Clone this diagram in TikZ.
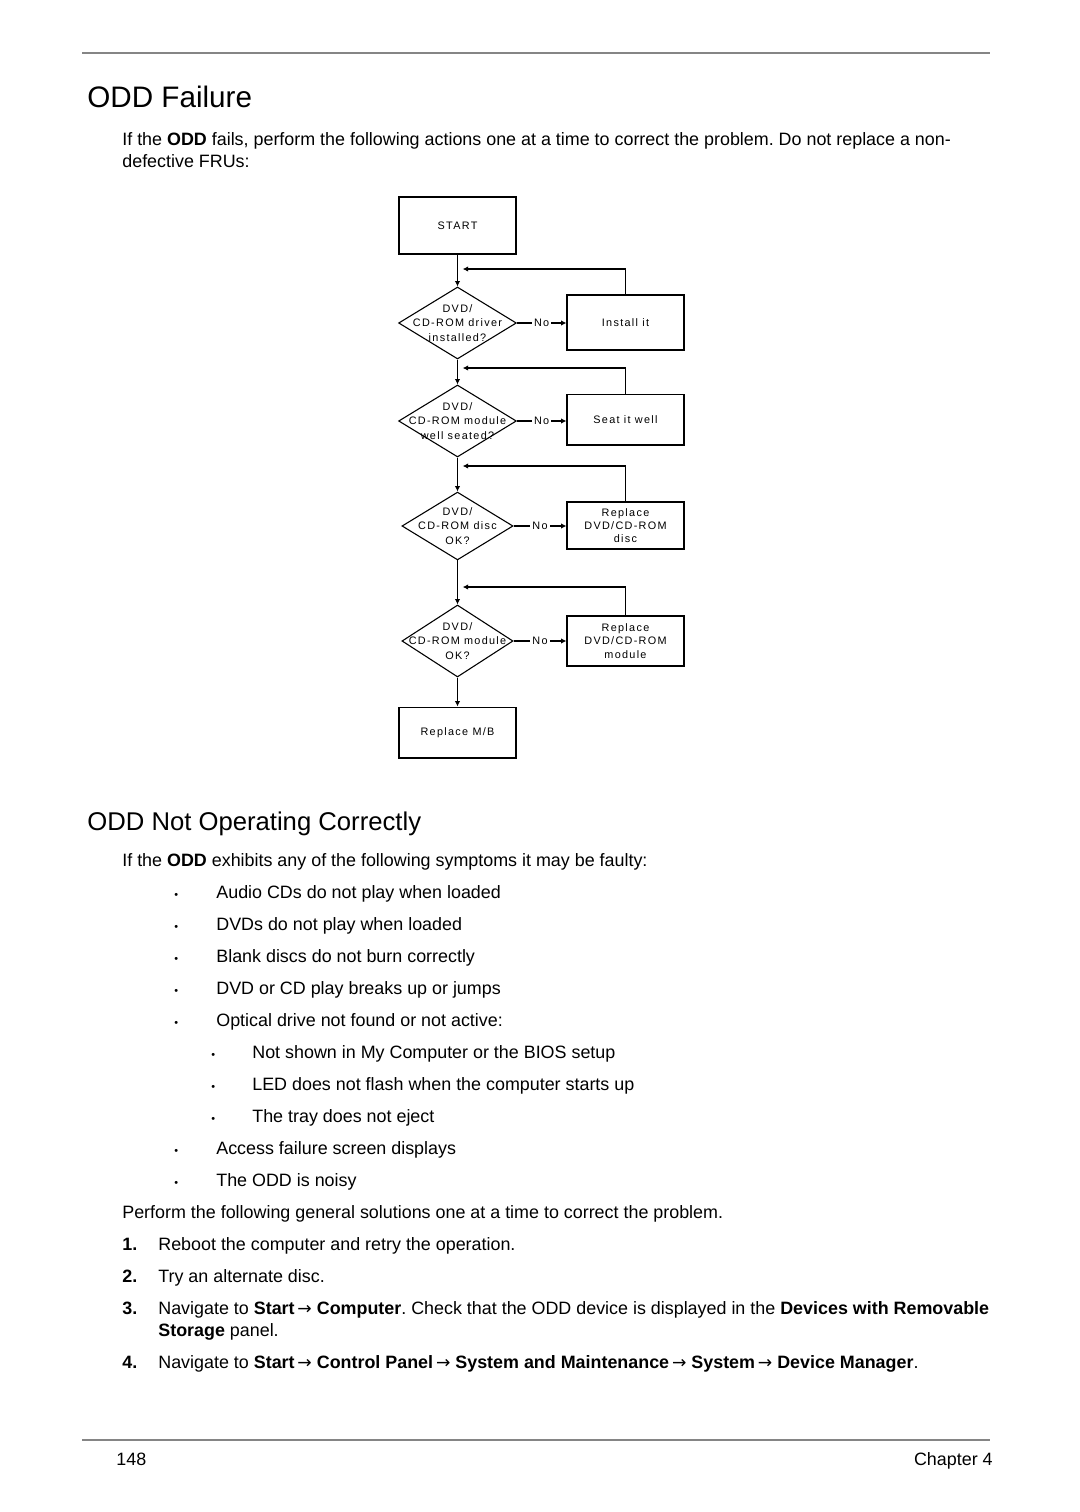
\documentclass[tikz,border=0pt]{standalone}
\usepackage{fontspec}
\setmainfont{Liberation Sans}
\newfontfamily\chartfont[LetterSpace=12]{Liberation Sans}
\newfontfamily\arrowfont{DejaVu Sans}
\newcommand{\goto}{{\arrowfont\fontsize{9.5}{10}\selectfont\,→}}
\usetikzlibrary{shapes.geometric, arrows.meta, positioning}
\definecolor{rulegray}{HTML}{858585}
\frenchspacing

\begin{document}
\begin{tikzpicture}[x=0.19444mm, y=-0.19444mm]
% Define styles
\tikzstyle{page} = [inner sep=0pt, anchor=base west, font=\fontsize{9.9}{12}\selectfont]
\tikzstyle{heading} = [inner sep=0pt, anchor=base west, font=\fontsize{16.4}{20}\selectfont]
\tikzstyle{dot} = [inner sep=0pt, anchor=base west, font=\fontsize{6}{6}\selectfont]
\tikzstyle{action} = [rectangle, draw, line width=0.6pt, minimum width=22.75mm, inner sep=1pt, align=center, font=\chartfont\fontsize{6}{7.4}\selectfont]
\tikzstyle{decision} = [diamond, draw, line width=0.6pt, inner sep=0pt, minimum width=22.9mm, minimum height=14mm]
\tikzstyle{dtext} = [inner sep=0pt, align=center, font=\chartfont\fontsize{6}{8}\selectfont]
\tikzstyle{nolabel} = [fill=white, inner sep=1.2pt, font=\chartfont\fontsize{6}{7}\selectfont]
\tikzstyle{arr} = [line width=0.6pt, -{Latex[length=3pt, width=3pt]}]

\fill[white] (0,0) rectangle (1080,1512);
\useasboundingbox (0,0) rectangle (1080,1512);

% Page rules
\draw[rulegray, line width=1.1pt] (82,53) -- (990,53);
\draw[rulegray, line width=1.1pt] (82,1440) -- (990,1440);

% Top text
\node[heading] (title) at (87,108) {ODD Failure};
\node[page] (intro1) at (122,145) {If the \textbf{ODD} fails, perform the following actions one at a time to correct the problem. Do not replace a non-};
\node[page] (intro2) at (122,167) {defective FRUs:};

% Flowchart nodes
\node[action, minimum height=11.08mm] (start) at (457.5,225.5) {START};
\node[decision, label={[dtext]center:{DVD/\\CD-ROM driver\\installed?}}] (q1) at (457.5,323) {};
\node[action, minimum height=10.7mm] (fix1) at (625.5,322.5) {Install it};
\node[decision, label={[dtext]center:{DVD/\\CD-ROM module\\well seated?}}] (q2) at (457.5,421) {};
\node[action, minimum height=9.9mm] (fix2) at (625.5,419.5) {Seat it well};
\node[decision, minimum width=21.6mm, minimum height=13.2mm, label={[dtext]center:{DVD/\\CD-ROM disc\\OK?}}] (q3) at (457.5,526) {};
\node[action, minimum height=9.14mm] (fix3) at (625.5,525.5) {Replace\\DVD/CD-ROM\\disc};
\node[decision, minimum width=21.6mm, label={[dtext]center:{DVD/\\CD-ROM module\\OK?}}] (q4) at (457.5,641) {};
\node[action, minimum height=9.72mm] (fix4) at (625.5,641) {Replace\\DVD/CD-ROM\\module};
\node[action, minimum height=9.9mm] (mb) at (457.5,732.5) {Replace M/B};

% Return points
\coordinate (j1) at (457.5,269);
\coordinate (j2) at (457.5,368);
\coordinate (j3) at (457.5,466);
\coordinate (j4) at (457.5,587);

% Arrows
\draw[arr] (start) -- (q1);
\draw[arr] (q1) -- (q2);
\draw[arr] (q2) -- (q3);
\draw[arr] (q3) -- (q4);
\draw[arr] (q4) -- (mb);
\draw[arr] (q1.east) -- node[nolabel] {No} (q1.east -| fix1.west);
\draw[arr] (q2.east) -- node[nolabel] {No} (q2.east -| fix2.west);
\draw[arr] (q3.east) -- node[nolabel] {No} (q3.east -| fix3.west);
\draw[arr] (q4.east) -- node[nolabel] {No} (q4.east -| fix4.west);
\draw[arr, shorten >=1mm] (fix1.north) |- (j1);
\draw[arr, shorten >=1mm] (fix2.north) |- (j2);
\draw[arr, shorten >=1mm] (fix3.north) |- (j3);
\draw[arr, shorten >=1mm] (fix4.north) |- (j4);

% Second section
\node[heading, font=\fontsize{14.2}{17}\selectfont] (title2) at (87,830) {ODD Not Operating Correctly};
\node[page] (symp) at (122,866) {If the \textbf{ODD} exhibits any of the following symptoms it may be faulty:};
\foreach \y/\txt in {898/Audio CDs do not play when loaded, 930/DVDs do not play when loaded, 962/Blank discs do not burn correctly, 994/DVD or CD play breaks up or jumps, 1026/Optical drive not found or not active:, 1154/Access failure screen displays, 1186/The ODD is noisy} {
  \node[dot] (d\y) at (174,\y) {•};
  \node[page] (b\y) at (216,\y) {\txt};
}
\foreach \y/\txt in {1058/Not shown in My Computer or the BIOS setup, 1090/LED does not flash when the computer starts up, 1122/The tray does not eject} {
  \node[dot] (d\y) at (211,\y) {•};
  \node[page] (b\y) at (252,\y) {\txt};
}
\node[page] (perform) at (122,1218) {Perform the following general solutions one at a time to correct the problem.};
\node[page, font=\fontsize{9.9}{12}\bfseries] (n1) at (122,1250) {1.};
\node[page] (s1) at (158,1250) {Reboot the computer and retry the operation.};
\node[page, font=\fontsize{9.9}{12}\bfseries] (n2) at (122,1282) {2.};
\node[page] (s2) at (158,1282) {Try an alternate disc.};
\node[page, font=\fontsize{9.9}{12}\bfseries] (n3) at (122,1314) {3.};
\node[page] (s3) at (158,1314) {Navigate to \textbf{Start}\goto{} \textbf{Computer}. Check that the ODD device is displayed in the \textbf{Devices with Removable}};
\node[page] (s3b) at (158,1336) {\textbf{Storage} panel.};
\node[page, font=\fontsize{9.9}{12}\bfseries] (n4) at (122,1368) {4.};
\node[page] (s4) at (158,1368) {Navigate to \textbf{Start}\goto{} \textbf{Control Panel}\goto{} \textbf{System and Maintenance}\goto{} \textbf{System}\goto{} \textbf{Device Manager}.};

% Footer
\node[page] (pageno) at (116,1465) {148};
\node[page, anchor=base east] (chapter) at (993,1465) {Chapter 4};
\end{tikzpicture}
\end{document}
